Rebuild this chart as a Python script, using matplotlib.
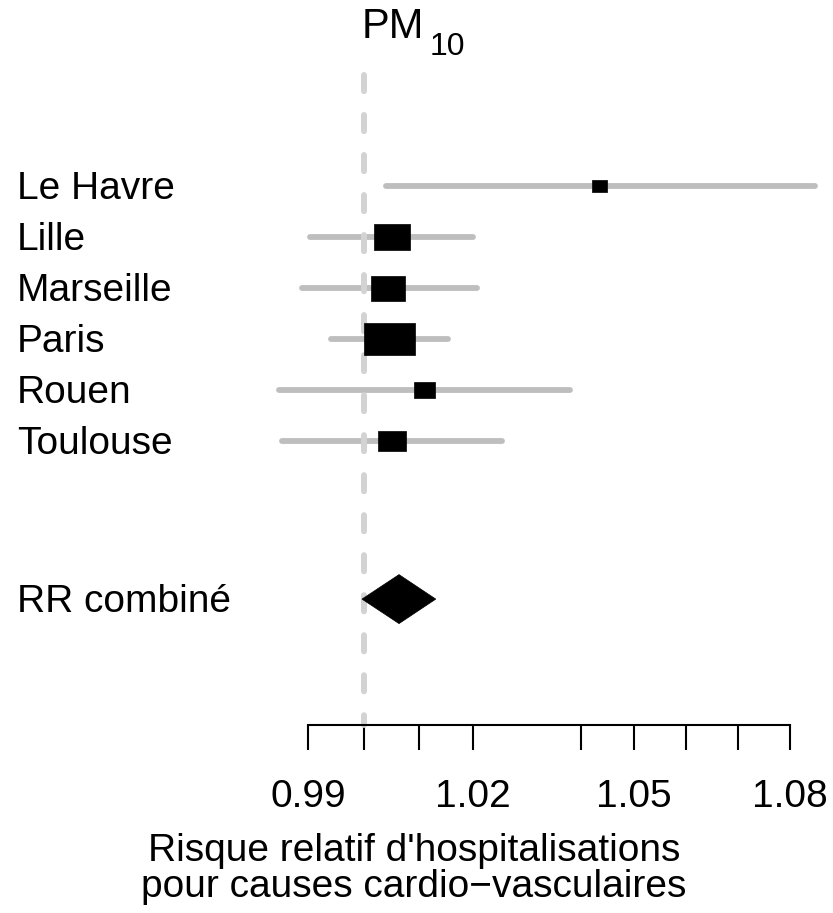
import numpy as np
import matplotlib
matplotlib.use('Agg')
import matplotlib.pyplot as plt
import matplotlib.transforms as mtransforms
from matplotlib.patches import Polygon

plt.rcParams['font.family'] = ['Liberation Sans', 'DejaVu Sans']
plt.rcParams['mathtext.default'] = 'regular'

# risques relatifs par ville (PM10) et IC 95%
villes = ['Le Havre', 'Lille', 'Marseille', 'Paris', 'Rouen', 'Toulouse']
rr = [1.0434, 1.0051, 1.0044, 1.0046, 1.0110, 1.0051]
ic_bas = [1.0040, 0.9904, 0.9889, 0.9941, 0.9848, 0.9854]
ic_haut = [1.0848, 1.0200, 1.0206, 1.0153, 1.0379, 1.0253]

# estimation combinee
label_comb = 'RR combiné'
rr_comb = 1.0064
ic_comb = [0.9997, 1.0131]

ticks_x = [0.99, 1.00, 1.01, 1.02, 1.04, 1.05, 1.06, 1.07, 1.08]
labels_x = ['0.99', '', '', '1.02', '', '1.05', '', '', '1.08']

# taille des carres (pixels), proportionnelle au poids
box_w = [15, 36, 34, 51, 21, 27]
box_h = [12, 26, 25, 32, 16, 19]

W, H, DPI = 833, 913, 100
FS = 28
row_px = 51.0
y_rows = np.arange(len(villes))
y_comb = 8.1

fig = plt.figure(figsize=(W / DPI, H / DPI), dpi=DPI)
ax_top, ax_bot = 70, 725
ax = fig.add_axes([308 / W, 1 - ax_bot / H, (790 - 308) / W, (ax_bot - ax_top) / H])
ax.set_xscale('log')
ax.set_xlim(0.99, 1.08)
y0 = (ax_top - 186) / row_px
y1 = (ax_bot - 186) / row_px
ax.set_ylim(y1, y0)

# intervalles de confiance
for i in range(len(villes)):
    ax.plot([ic_bas[i], ic_haut[i]], [y_rows[i], y_rows[i]], color='#bebebe',
            lw=4.2, solid_capstyle='round', clip_on=False, zorder=1)

# ligne de reference RR = 1
ref, = ax.plot([1.0, 1.0], [y0 + 5 / row_px, y1], color='#d3d3d3', lw=4.3,
               dash_capstyle='round', zorder=2, clip_on=False)
ref.set_dashes((2.7, 4.0))

# carres
for i in range(len(villes)):
    r = box_h[i] / box_w[i]
    verts = [(-0.5, -0.5 * r), (0.5, -0.5 * r), (0.5, 0.5 * r), (-0.5, 0.5 * r), (-0.5, -0.5 * r)]
    ax.plot(rr[i], y_rows[i], marker=verts, markersize=box_w[i] * 72 / DPI,
            color='black', mec='black', mew=0.5, ls='none', zorder=3)

# losange pour le RR combine
hh = 24.5 / row_px
diamond = Polygon([(ic_comb[0], y_comb), (rr_comb, y_comb - hh),
                   (ic_comb[1], y_comb), (rr_comb, y_comb + hh)],
                  closed=True, facecolor='black', edgecolor='black', lw=0.5, zorder=3)
ax.add_patch(diamond)

# noms des lignes
trans = mtransforms.blended_transform_factory(fig.transFigure, ax.transData)
for i, v in enumerate(villes):
    ax.text(17 / W, y_rows[i] + 13 / row_px, v, transform=trans, fontsize=FS,
            va='baseline', ha='left')
ax.text(17 / W, y_comb + 13 / row_px, label_comb, transform=trans, fontsize=FS,
        va='baseline', ha='left')

# axe x
for s in ['top', 'right', 'left']:
    ax.spines[s].set_visible(False)
ax.spines['bottom'].set_linewidth(1.5)
ax.set_yticks([])
ax.set_xticks(ticks_x)
ax.set_xticklabels(labels_x)
ax.xaxis.set_minor_locator(matplotlib.ticker.NullLocator())
ax.tick_params(axis='x', direction='out', length=18, width=1.5, pad=21, labelsize=FS)

# titre PM10 (indice presque aussi grand que le texte)
fig.text(362 / W, 1 - 38 / H, 'PM', fontsize=30, ha='left', va='baseline')
fig.text(430 / W, 1 - 55 / H, '10', fontsize=23, ha='left', va='baseline')

fig.text(414 / W, 1 - 851 / H, "Risque relatif d'hospitalisations", fontsize=FS,
         ha='center', va='center')
fig.text(414 / W, 1 - 887 / H, 'pour causes cardio\u2212vasculaires', fontsize=FS,
         ha='center', va='center')

fig.savefig('out.png', dpi=DPI)
